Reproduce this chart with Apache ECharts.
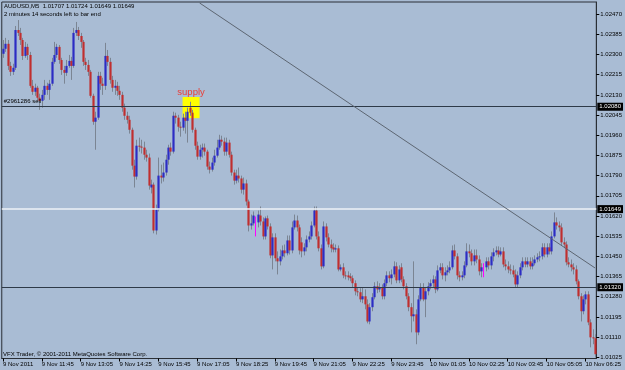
<!DOCTYPE html>
<html>
<head>
<meta charset="utf-8">
<script src="https://cdn.jsdelivr.net/npm/echarts@6/dist/echarts.min.js"></script>
<style>
  html, body { margin: 0; padding: 0; background: #a9bcd4; }
  #chart { width: 625px; height: 370px; }
</style>
</head>
<body>
<div id="chart"></div>
<script>
// AUDUSD M5, 9 Nov 10:25 .. 10 Nov 06:45, prices as points above 1.01000
var openPts = [
  1303, 1324, 1345, 1252, 1227, 1244, 1403, 1391, 1361, 1294,
  1332, 1298, 1168, 1143, 1160, 1118, 1105, 1130, 1168, 1151,
  1177, 1269, 1298, 1332, 1277, 1235, 1223, 1252, 1273, 1252,
  1391, 1403, 1378, 1353, 1269, 1256, 1227, 1126, 1017, 1034,
  1210, 1177, 1168, 1294, 1269, 1193, 1160, 1168, 1147, 1130,
  1076, 1042, 1025, 983, 832, 786, 916, 912, 908, 878,
  866, 740, 752, 559, 647, 790, 782, 803, 857, 908,
  891, 1042, 1034, 996, 992, 1034, 1021, 1076, 1055, 983,
  916, 870, 899, 908, 891, 828, 815, 845, 874, 908,
  941, 933, 891, 929, 878, 803, 769, 790, 778, 731,
  757, 681, 580, 589, 593, 593, 622, 597, 534, 610,
  576, 454, 530, 442, 429, 450, 475, 463, 517, 475,
  572, 601, 572, 509, 471, 488, 521, 534, 580, 643,
  534, 484, 408, 576, 530, 500, 488, 479, 484, 395,
  404, 370, 370, 366, 358, 337, 303, 299, 269, 282,
  248, 176, 236, 278, 324, 311, 320, 282, 337, 370,
  358, 374, 408, 349, 404, 353, 324, 282, 236, 198,
  206, 130, 269, 320, 269, 303, 324, 337, 353, 311,
  391, 404, 370, 383, 391, 404, 475, 450, 370, 362,
  370, 412, 471, 463, 429, 454, 437, 387, 404, 404,
  429, 412, 450, 467, 475, 458, 471, 416, 408, 395,
  391, 374, 332, 370, 404, 429, 416, 429, 408, 421,
  437, 446, 450, 488, 458, 488, 471, 534, 593, 580,
  572, 509, 500, 425, 416, 404, 395, 345, 282, 219,
  269, 290, 172, 109, 105
];
var highPts = [
  1361, 1370, 1361, 1269, 1261, 1420, 1445, 1412, 1370, 1353,
  1345, 1311, 1193, 1177, 1168, 1135, 1151, 1193, 1181, 1193,
  1286, 1353, 1345, 1340, 1286, 1252, 1277, 1298, 1290, 1412,
  1437, 1416, 1391, 1361, 1286, 1277, 1235, 1135, 1059, 1227,
  1227, 1202, 1349, 1319, 1286, 1210, 1193, 1185, 1168, 1143,
  1093, 1059, 1042, 992, 857, 941, 950, 941, 933, 899,
  883, 773, 761, 668, 866, 836, 845, 878, 920, 929,
  1059, 1055, 1046, 1017, 1051, 1059, 1076, 1101, 1067, 992,
  933, 920, 925, 925, 899, 849, 866, 899, 941, 962,
  958, 950, 950, 941, 891, 815, 815, 824, 790, 782,
  773, 689, 626, 639, 618, 643, 660, 614, 618, 622,
  589, 547, 547, 471, 479, 496, 500, 538, 538, 597,
  626, 622, 584, 530, 505, 538, 555, 597, 660, 660,
  555, 500, 597, 589, 547, 521, 505, 500, 496, 416,
  421, 387, 387, 379, 370, 349, 320, 316, 320, 311,
  269, 253, 295, 341, 345, 337, 332, 353, 387, 387,
  395, 429, 425, 412, 421, 366, 337, 295, 253, 429,
  227, 286, 337, 337, 320, 341, 353, 370, 366, 412,
  421, 421, 404, 412, 429, 496, 500, 463, 387, 387,
  429, 505, 500, 479, 479, 479, 454, 421, 421, 446,
  446, 467, 484, 492, 492, 488, 488, 437, 429, 416,
  412, 395, 387, 421, 446, 446, 446, 446, 446, 454,
  463, 471, 505, 505, 505, 505, 555, 635, 614, 597,
  589, 530, 513, 446, 437, 421, 412, 353, 295, 286,
  303, 303, 185, 143, 122
];
var lowPts = [
  1286, 1311, 1235, 1210, 1214, 1235, 1378, 1340, 1277, 1286,
  1277, 1160, 1130, 1126, 1101, 1067, 1076, 1109, 1130, 1109,
  1168, 1261, 1286, 1261, 1214, 1177, 1210, 1244, 1193, 1244,
  1378, 1361, 1328, 1252, 1235, 1210, 1118, 1004, 899, 1025,
  1151, 1130, 1151, 1252, 1177, 1143, 1130, 1126, 1109, 1059,
  1025, 1009, 967, 815, 740, 773, 891, 883, 857, 849,
  731, 715, 547, 542, 639, 757, 765, 790, 836, 874,
  883, 1009, 975, 954, 979, 967, 929, 1042, 971, 899,
  857, 857, 866, 874, 815, 799, 807, 832, 866, 899,
  916, 874, 874, 866, 790, 752, 757, 761, 715, 710,
  664, 555, 563, 580, 534, 572, 580, 521, 521, 563,
  442, 395, 429, 374, 412, 437, 446, 454, 458, 463,
  563, 555, 458, 446, 454, 471, 509, 521, 572, 521,
  471, 395, 400, 513, 488, 467, 467, 467, 387, 387,
  358, 353, 349, 345, 320, 286, 282, 257, 253, 227,
  168, 164, 219, 269, 295, 299, 269, 269, 324, 341,
  332, 362, 337, 337, 341, 311, 269, 219, 130, 176,
  80, 118, 261, 261, 194, 286, 311, 320, 295, 303,
  379, 353, 345, 370, 379, 395, 437, 353, 345, 349,
  358, 404, 446, 412, 412, 421, 370, 362, 362, 387,
  395, 395, 429, 454, 446, 450, 404, 391, 379, 374,
  362, 320, 320, 358, 391, 404, 404, 395, 395, 412,
  425, 429, 437, 446, 446, 458, 458, 526, 563, 555,
  496, 484, 412, 404, 387, 374, 332, 269, 176, 206,
  248, 160, 67, 80, 25
];
var closePts = [
  1324, 1345, 1252, 1227, 1244, 1403, 1391, 1361, 1294, 1332,
  1298, 1168, 1143, 1160, 1118, 1105, 1130, 1168, 1151, 1177,
  1269, 1298, 1332, 1277, 1235, 1223, 1252, 1273, 1252, 1391,
  1403, 1378, 1353, 1269, 1256, 1227, 1126, 1017, 1034, 1210,
  1177, 1168, 1294, 1269, 1193, 1160, 1168, 1147, 1130, 1076,
  1042, 1025, 983, 832, 786, 916, 912, 908, 878, 866,
  748, 752, 559, 647, 790, 782, 803, 857, 908, 891,
  1042, 1034, 996, 992, 1034, 1021, 1059, 1055, 983, 916,
  870, 899, 908, 891, 828, 815, 845, 874, 908, 941,
  933, 891, 929, 878, 803, 769, 790, 778, 731, 757,
  681, 580, 589, 622, 593, 626, 597, 534, 610, 576,
  454, 530, 442, 429, 450, 475, 463, 517, 475, 572,
  601, 572, 475, 471, 488, 521, 534, 580, 643, 534,
  484, 408, 576, 530, 500, 484, 479, 484, 395, 404,
  370, 366, 362, 358, 337, 303, 299, 269, 282, 248,
  176, 236, 278, 324, 311, 320, 282, 337, 370, 358,
  374, 408, 349, 395, 353, 324, 282, 236, 198, 206,
  130, 269, 320, 269, 303, 324, 337, 353, 311, 391,
  404, 370, 383, 391, 404, 475, 450, 370, 362, 370,
  412, 471, 463, 429, 454, 437, 387, 404, 404, 429,
  412, 450, 467, 475, 458, 471, 416, 408, 395, 391,
  374, 332, 370, 404, 429, 416, 429, 408, 421, 437,
  446, 450, 488, 458, 488, 471, 534, 593, 580, 572,
  509, 500, 425, 416, 404, 395, 345, 282, 219, 269,
  290, 172, 109, 105, 38
];

var tickLabels = [
  '9 Nov 2011', '9 Nov 11:45', '9 Nov 13:05', '9 Nov 14:25', '9 Nov 15:45',
  '9 Nov 17:05', '9 Nov 18:25', '9 Nov 19:45', '9 Nov 21:05', '9 Nov 22:25',
  '9 Nov 23:45', '10 Nov 01:05', '10 Nov 02:25', '10 Nov 03:45', '10 Nov 05:05',
  '10 Nov 06:25'
];
var barsPerTick = 16;
var priceTicks = [
  1.02470, 1.02385, 1.02300, 1.02215, 1.02130, 1.02045, 1.01960, 1.01875, 1.01790,
  1.01705, 1.01620, 1.01535, 1.01450, 1.01365, 1.01280, 1.01195, 1.01110, 1.01025
];
var orderLevel = 1.02080;
var bidLevel = 1.01649;
var supportLevel = 1.01320;
var trendStart = [81, 1.02517];
var trendEnd = [244, 1.01401];
var supplyZone = [[74, 1.02121], [81, 1.02032]];

var FONT = 'Liberation Sans, Arial, sans-serif';

var categories = [];
var candles = [];
for (var i = 0; i < closePts.length; i++) {
  categories.push(String(i));
  candles.push([
    i,
    1.01 + openPts[i] / 100000,
    1.01 + closePts[i] / 100000,
    1.01 + lowPts[i] / 100000,
    1.01 + highPts[i] / 100000
  ]);
}

function renderCandle(params, api) {
  var k = api.value(0);
  var o = api.value(1), c = api.value(2);
  var po = api.coord([k, o]);
  var pc = api.coord([k, c]);
  var pl = api.coord([k, api.value(3)]);
  var ph = api.coord([k, api.value(4)]);
  var w = api.size([1, 0])[0] * 0.9;
  var x = Math.round(po[0]) + 0.5;
  var doji = Math.abs(o - c) < 1e-9;
  var top = Math.min(po[1], pc[1]);
  var h = Math.max(1, Math.abs(po[1] - pc[1]));
  var children = [{
    type: 'line',
    shape: { x1: x, y1: ph[1], x2: x, y2: pl[1] },
    style: { stroke: doji ? '#ff00ff' : '#7b8593', lineWidth: 1 }
  }];
  if (!doji) {
    children.push({
      type: 'rect',
      shape: { x: x - w / 2, y: top, width: w, height: h },
      style: { fill: c > o ? '#2c2cc4' : '#c02e2e' }
    });
  }
  return { type: 'group', children: children };
}

var boxLabel = {
  show: true,
  position: 'end',
  distance: 1,
  backgroundColor: '#000',
  color: '#fff',
  fontSize: 6,
  fontFamily: FONT,
  padding: [1, 2, 1, 2]
};

var chart = echarts.init(document.getElementById('chart'));
chart.setOption({
  animation: false,
  backgroundColor: '#a9bcd4',
  title: [
    {
      text: 'AUDUSD,M5  1.01707 1.01724 1.01649 1.01649',
      subtext: '2 minutes 14 seconds left to bar end',
      left: 4,
      top: 3,
      padding: 0,
      itemGap: 2,
      textStyle: { fontSize: 6, fontWeight: 'normal', color: '#000', fontFamily: FONT },
      subtextStyle: { fontSize: 6, color: '#000', fontFamily: FONT }
    },
    {
      text: 'VFX Trader, \u00a9 2001-2011 MetaQuotes Software Corp.',
      left: 3,
      top: 351,
      padding: 0,
      textStyle: { fontSize: 6, fontWeight: 'normal', color: '#000', fontFamily: FONT }
    }
  ],
  grid: {
    left: 0.5,
    right: 23,
    top: 2,
    bottom: 11.5,
    show: true,
    borderColor: '#2a2f36',
    borderWidth: 1
  },
  xAxis: {
    type: 'category',
    data: categories,
    boundaryGap: true,
    axisLine: { show: true, lineStyle: { color: '#2a2f36' } },
    axisTick: {
      show: true,
      alignWithLabel: true,
      length: 3,
      interval: function (index) { return index % barsPerTick === 0; },
      lineStyle: { color: '#000' }
    },
    axisLabel: {
      interval: function (index) { return index % barsPerTick === 0; },
      formatter: function (value, index) { return tickLabels[index / barsPerTick]; },
      align: 'left',
      margin: 3,
      fontSize: 6,
      color: '#000',
      fontFamily: FONT
    },
    splitLine: { show: false }
  },
  yAxis: {
    type: 'value',
    position: 'right',
    min: 1.0102,
    max: 1.02521,
    axisLine: { show: true, lineStyle: { color: '#2a2f36' } },
    axisTick: {
      show: true,
      length: 3,
      customValues: priceTicks,
      lineStyle: { color: '#000' }
    },
    axisLabel: {
      customValues: priceTicks,
      formatter: function (v) { return v.toFixed(5); },
      margin: 4,
      fontSize: 6,
      color: '#000',
      fontFamily: FONT
    },
    splitLine: { show: false }
  },
  series: [
    {
      type: 'custom',
      renderItem: renderCandle,
      data: candles,
      encode: { x: 0, y: [1, 2, 3, 4] },
      markArea: {
        silent: true,
        itemStyle: { color: '#ffff00', opacity: 1 },
        label: {
          show: true,
          position: 'top',
          distance: 0,
          formatter: 'supply',
          color: '#e8403a',
          fontSize: 9.5,
          fontFamily: FONT
        },
        data: [[
          { xAxis: supplyZone[0][0], yAxis: supplyZone[0][1] },
          { xAxis: supplyZone[1][0], yAxis: supplyZone[1][1] }
        ]]
      },
      markLine: {
        silent: true,
        precision: 5,
        symbol: ['none', 'none'],
        animation: false,
        data: [
          {
            yAxis: orderLevel,
            lineStyle: { color: '#2e3a48', width: 1, type: 'solid' },
            label: Object.assign({}, boxLabel, { formatter: orderLevel.toFixed(5) })
          },
          {
            yAxis: orderLevel,
            lineStyle: { color: 'rgba(0,0,0,0)', width: 1 },
            label: {
              show: true,
              position: 'insideStartTop',
              distance: 2,
              formatter: '#2961286 sell',
              color: '#000',
              fontSize: 6,
              fontFamily: FONT
            }
          },
          {
            yAxis: bidLevel,
            lineStyle: { color: '#eef2f7', width: 1.5, type: 'solid' },
            label: Object.assign({}, boxLabel, { formatter: bidLevel.toFixed(5) })
          },
          {
            yAxis: supportLevel,
            lineStyle: { color: '#2e3a48', width: 1, type: 'solid' },
            label: Object.assign({}, boxLabel, { formatter: supportLevel.toFixed(5) })
          },
          [
            { coord: trendStart, lineStyle: { color: '#5d6672', width: 1, type: 'solid' }, label: { show: false } },
            { coord: trendEnd }
          ]
        ]
      }
    }
  ]
});
</script>
</body>
</html>
